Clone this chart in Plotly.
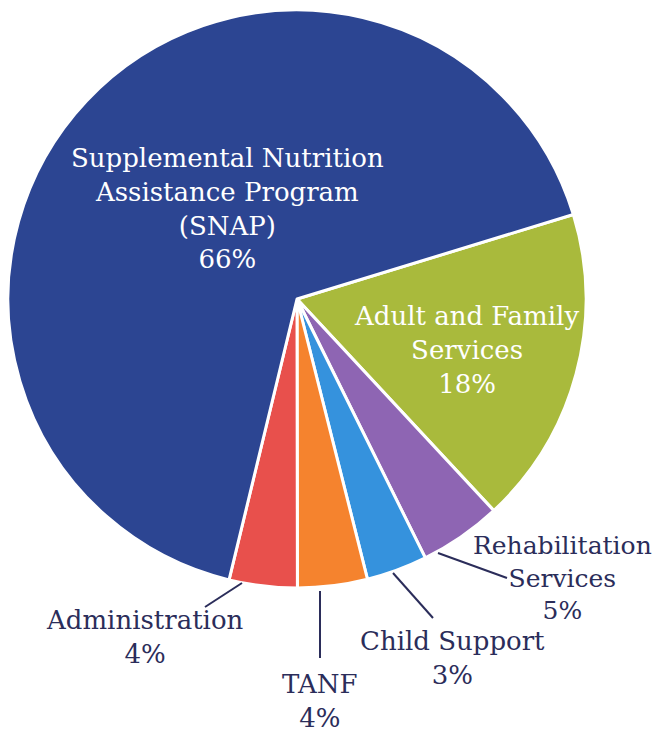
import plotly.graph_objects as go

W, H = 663, 732
OFF = 8  # page body margin offset

# Data (clockwise from the SNAP / Adult boundary)
categories = ["Adult and Family Services", "Rehabilitation Services", "Child Support",
              "TANF", "Administration", "Supplemental Nutrition Assistance Program (SNAP)"]
shares = [17.8, 4.6, 3.4, 3.9, 3.8, 66.5]
pct_labels = ["18%", "5%", "3%", "4%", "4%", "66%"]
label_lines = [
    ["Adult and Family", "Services"],
    ["Rehabilitation", "Services"],
    ["Child Support"],
    ["TANF"],
    ["Administration"],
    ["Supplemental Nutrition", "Assistance Program", "(SNAP)"],
]
colors = ["#a9ba3c", "#8e65b3", "#3592dd", "#f5832e", "#e8504c", "#2c4592"]

NAVY = "#2b2d5a"
FONT = "DejaVu Serif"


def px(x):
    return (x - OFF) / W


def py(y):
    return 1 - (y - OFF) / H


fig = go.Figure()
fig.add_trace(go.Pie(
    labels=categories,
    values=shares,
    sort=False,
    direction="clockwise",
    rotation=73,
    marker=dict(colors=colors, line=dict(color="white", width=3)),
    textinfo="none",
    hoverinfo="label+percent",
    showlegend=False,
    domain=dict(x=[0, 578 / W], y=[py(590), 1]),
))

# label placement (pixel centres of text blocks), sizes and text colours
label_pos = [(466, 350), (562, 578), (453, 658), (320, 701), (145, 637), (227, 208)]
label_size = [26, 25, 26, 26, 26, 26]
label_col = ["white", NAVY, NAVY, NAVY, NAVY, "white"]

for lines, pct, (cx, cy), sz, col in zip(label_lines, pct_labels, label_pos, label_size, label_col):
    txt = "<br>".join(lines + [pct])
    fig.add_annotation(
        x=px(cx), y=py(cy), xref="paper", yref="paper",
        text=txt, showarrow=False, align="center",
        xanchor="center", yanchor="middle",
        font=dict(family=FONT, size=sz, color=col),
    )

# leader lines (pixel endpoints)
leaders = [
    ((438, 553), (507, 578)),
    ((393, 573), (433, 618)),
    ((320, 591), (320, 658)),
    ((242, 583), (205, 607)),
]
for (x0, y0), (x1, y1) in leaders:
    fig.add_shape(type="line", xref="paper", yref="paper",
                  x0=px(x0), y0=py(y0), x1=px(x1), y1=py(y1),
                  line=dict(color=NAVY, width=2))

fig.update_layout(
    width=W, height=H,
    margin=dict(l=0, r=0, t=0, b=0),
    paper_bgcolor="white",
    plot_bgcolor="white",
)

fig.write_html("out.html")
